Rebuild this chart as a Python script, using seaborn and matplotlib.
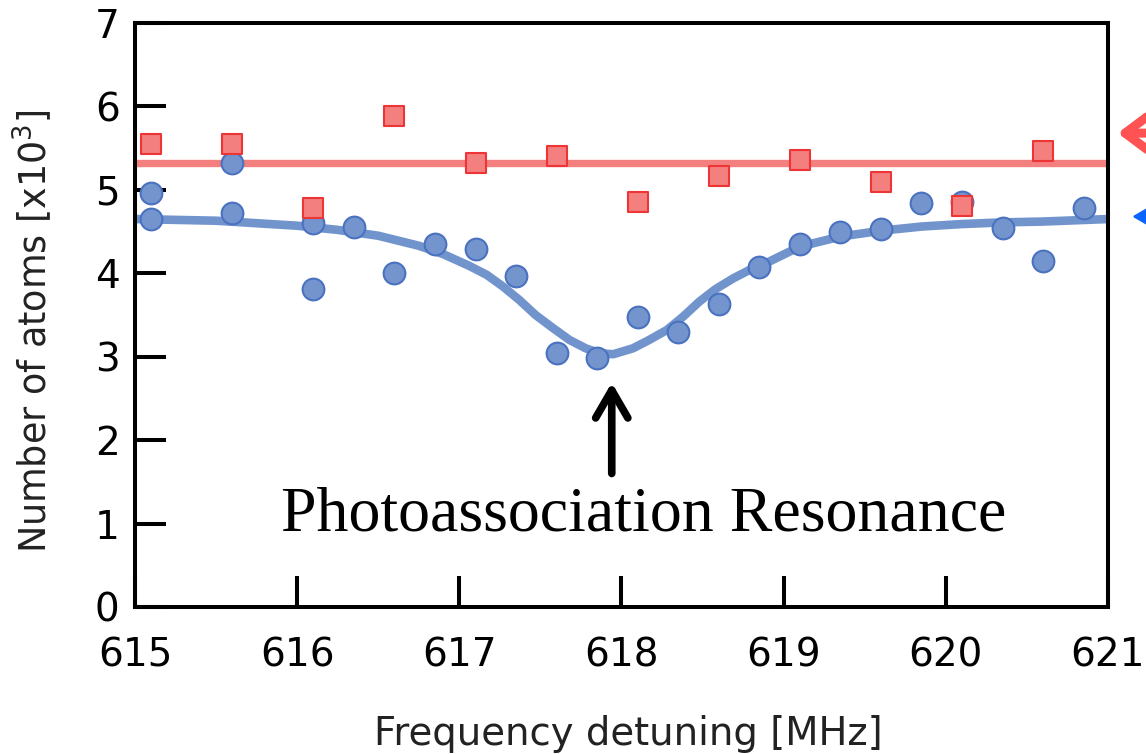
import matplotlib
matplotlib.use("Agg")
import matplotlib.pyplot as plt
import seaborn as sns

# Atom number (x10^3) measured with the photoassociation beam (circles)
blue_x = [615.1, 615.1, 615.6, 615.6, 616.1, 616.1, 616.35, 616.6, 616.85,
          617.1, 617.35, 617.6, 617.85, 618.1, 618.35, 618.6, 618.85, 619.1,
          619.35, 619.6, 619.85, 620.1, 620.35, 620.6, 620.85]
blue_y = [4.96, 4.65, 5.32, 4.72, 4.60, 3.81, 4.56, 4.00, 4.35,
          4.29, 3.97, 3.04, 2.98, 3.47, 3.30, 3.63, 4.07, 4.35,
          4.49, 4.53, 4.84, 4.86, 4.54, 4.15, 4.78]

# Reference measurement (squares)
red_x = [615.1, 615.6, 616.1, 616.6, 617.1, 617.6, 618.1, 618.6, 619.1,
         619.6, 620.1, 620.6]
red_y = [5.55, 5.55, 4.78, 5.88, 5.32, 5.41, 4.85, 5.17, 5.36,
         5.10, 4.81, 5.47]

# Resonance fit curve
fit_x = [615.0, 615.5, 616.0, 616.25, 616.5, 616.75, 616.9, 617.06, 617.17,
         617.27, 617.37, 617.47, 617.58, 617.68, 617.78, 617.87, 617.95,
         618.07, 618.17, 618.28, 618.38, 618.48, 618.58, 618.69, 618.79,
         618.89, 619.1, 619.35, 619.6, 619.85, 620.1, 620.35, 620.6, 621.0]
fit_y = [4.65, 4.63, 4.57, 4.52, 4.45, 4.33, 4.23, 4.09, 3.98,
         3.84, 3.68, 3.50, 3.34, 3.20, 3.10, 3.04, 3.03,
         3.10, 3.20, 3.32, 3.48, 3.66, 3.81, 3.94, 4.04,
         4.12, 4.32, 4.44, 4.51, 4.56, 4.59, 4.61, 4.62, 4.65]

# Flat level of the reference data
ref_x = [615.0, 621.0]
ref_y = [5.32, 5.32]

x_ticks = [615, 616, 617, 618, 619, 620, 621]
y_ticks = [0, 1, 2, 3, 4, 5, 6, 7]

sns.set_style("ticks")
plt.rcParams["font.family"] = ["DejaVu Sans"]

fig = plt.figure(figsize=(11.46, 7.54), dpi=100)
ax = fig.add_axes([0.1178, 0.195, 0.849, 0.7745])

blue_line = "#7294CD"
blue_face = "#7394CD"
blue_edge = "#4A72C0"
red_face = "#F47F7F"
red_edge = "#EE3535"

sns.lineplot(x=ref_x, y=ref_y, ax=ax, color=red_face, lw=5.3, zorder=1)
sns.lineplot(x=fit_x, y=fit_y, ax=ax, color=blue_line, lw=6.2, zorder=2,
             solid_joinstyle="round", solid_capstyle="butt")
sns.scatterplot(x=blue_x, y=blue_y, ax=ax, marker="o", s=245,
                color=blue_face, edgecolor=blue_edge, linewidth=1.5, zorder=3)
sns.scatterplot(x=red_x, y=red_y, ax=ax, marker="s", s=225,
                color=red_face, edgecolor=red_edge, linewidth=1.5, zorder=4)

ax.set_xlim(615, 621)
ax.set_ylim(0, 7)
ax.set_xticks(x_ticks)
ax.set_yticks(y_ticks)
ax.set_xticklabels([str(t) for t in x_ticks])
ax.set_yticklabels([str(t) for t in y_ticks])
ax.tick_params(direction="in", length=22, width=2.9, labelsize=28,
               colors="black")
ax.tick_params(axis="y", pad=11)
ax.tick_params(axis="x", pad=21)
for sp in ax.spines.values():
    sp.set_visible(True)
    sp.set_linewidth(2.9)
    sp.set_color("black")

ax.set_xlabel("Frequency detuning [MHz]", fontsize=27.8, labelpad=28,
              color="#222222")
ax.set_ylabel(r"Number of atoms [x10$^3$]", fontsize=26.3,
              color="#222222")
ax.xaxis.set_label_coords(0.507, -0.185)
ax.yaxis.set_label_coords(-0.083, 0.471)

# Resonance marker
ax.annotate("", xy=(617.94, 2.69), xytext=(617.94, 1.60),
            arrowprops=dict(arrowstyle="->,head_length=0.5,head_width=0.29",
                            lw=5.5, color="black", mutation_scale=40,
                            capstyle="round", joinstyle="round",
                            shrinkA=0, shrinkB=0))
ax.text(618.14, 0.92, "Photoassociation Resonance", ha="center",
        va="baseline", fontsize=46, family=["Liberation Serif"],
        color="black")

# Level indicators at the right edge
ax.annotate("", xy=(621.06, 5.68), xytext=(621.6, 5.68),
            annotation_clip=False,
            arrowprops=dict(arrowstyle="->,head_length=0.6,head_width=0.45",
                            lw=6.5, color="#FF5252", mutation_scale=40,
                            shrinkA=0, shrinkB=0, clip_on=False))
ax.annotate("", xy=(621.15, 4.68), xytext=(621.6, 4.68),
            annotation_clip=False,
            arrowprops=dict(arrowstyle="-|>,head_length=0.6,head_width=0.35",
                            lw=2, color="#0A64FF", mutation_scale=40,
                            shrinkA=0, shrinkB=0, clip_on=False))

fig.savefig("out.png", dpi=100)
